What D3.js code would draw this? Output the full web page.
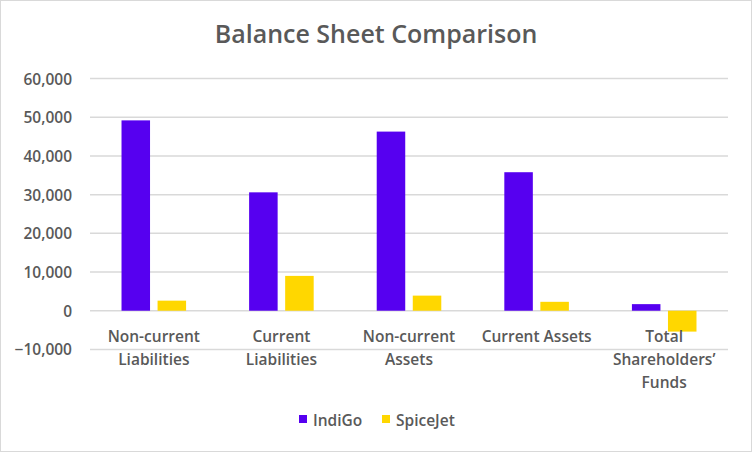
<!DOCTYPE html>
<html><head><meta charset="utf-8">
<script src="https://cdn.jsdelivr.net/npm/d3@7"></script>
<style>body{margin:0;background:#fff}svg{display:block}text{font-family:"Open Sans",sans-serif}</style>
</head><body><svg id="c" width="752" height="452"></svg>
<script>
const categories = ["Non-current Liabilities","Current Liabilities","Non-current Assets","Current Assets","Total Shareholders’ Funds"];
const seriesNames = ["IndiGo","SpiceJet"];
const indigo = [49200, 30600, 46300, 35800, 1700];
const spicejet = [2600, 9000, 3900, 2300, -5400];
const yTicks = [-10000,0,10000,20000,30000,40000,50000,60000];
const colors = ["#5600F0","#FFD700"];

const svg = d3.select("#c");
const W=752,H=452;
svg.append("rect").attr("x",0.5).attr("y",0.5).attr("width",W-1).attr("height",H-1).attr("fill","#fff").attr("stroke","#d9d9d9");

const m={left:90,right:24,top:78.6,bottom:349.4};
const x=d3.scaleBand().domain(categories).range([m.left,W-m.right]).padding(0);
const y=d3.scaleLinear().domain([-10000,60000]).range([m.bottom,m.top]);

// gridlines
svg.append("g").selectAll("line").data(yTicks).join("line")
 .attr("x1",m.left).attr("x2",W-m.right).attr("y1",d=>y(d)).attr("y2",d=>y(d))
 .attr("stroke","#d9d9d9").attr("stroke-width",1.5);

// y axis labels
const yAxis=d3.axisLeft(y).tickValues(yTicks).tickFormat(d3.format(",")).tickSize(0).tickPadding(0);
const ga=svg.append("g").attr("transform",`translate(72,0)`).call(yAxis);
ga.select(".domain").remove();
ga.selectAll("text").attr("fill","#595959").attr("font-size",15.5).attr("font-weight",600).attr("font-family","Open Sans").attr("dy","0.35em");

// bars
const bw=x.bandwidth();
const barW=bw*0.2235, gap=bw*0.059;
const data=categories.map((c,i)=>({c,vals:[indigo[i],spicejet[i]]}));
const g=svg.append("g");
data.forEach(d=>{
  const cx=x(d.c)+bw/2;
  d.vals.forEach((v,j)=>{
    const x0 = j===0 ? cx-gap/2-barW : cx+gap/2;
    g.append("rect").attr("x",x0).attr("width",barW)
     .attr("y",y(Math.max(0,v))).attr("height",Math.abs(y(v)-y(0)))
     .attr("fill",colors[j]);
  });
});

// category labels
const lab=svg.append("g");
function wrapLines(text,maxW){
  const words=text.split(" ");const lines=[];let cur="";
  const t=lab.append("text").attr("font-size",15.5).attr("font-weight",600);
  words.forEach(w=>{
    const test=cur?cur+" "+w:w;
    t.text(test);
    if(t.node().getComputedTextLength()>maxW && cur){lines.push(cur);cur=w;} else cur=test;
  });
  if(cur)lines.push(cur);t.remove();return lines;
}
categories.forEach(c=>{
  const lines=wrapLines(c,112);
  const t=lab.append("text").attr("text-anchor","middle").attr("fill","#595959")
   .attr("font-size",15.5).attr("font-weight",600);
  lines.forEach((l,i)=>t.append("tspan").attr("x",x(c)+bw/2).attr("y",342+i*23).text(l));
});

// title
svg.append("text").attr("x",W/2).attr("y",43).attr("text-anchor","middle")
 .attr("fill","#595959").attr("font-size",25).attr("font-weight",600).text("Balance Sheet Comparison");

// legend
const leg=svg.append("g");
const legX=[299,382];
seriesNames.forEach((s,i)=>{
  leg.append("rect").attr("x",legX[i]).attr("y",415).attr("width",8).attr("height",8).attr("fill",colors[i]);
  leg.append("text").attr("x",legX[i]+14).attr("y",426).attr("fill","#595959")
   .attr("font-size",15.5).attr("font-weight",600).text(s);
});
</script></body></html>
